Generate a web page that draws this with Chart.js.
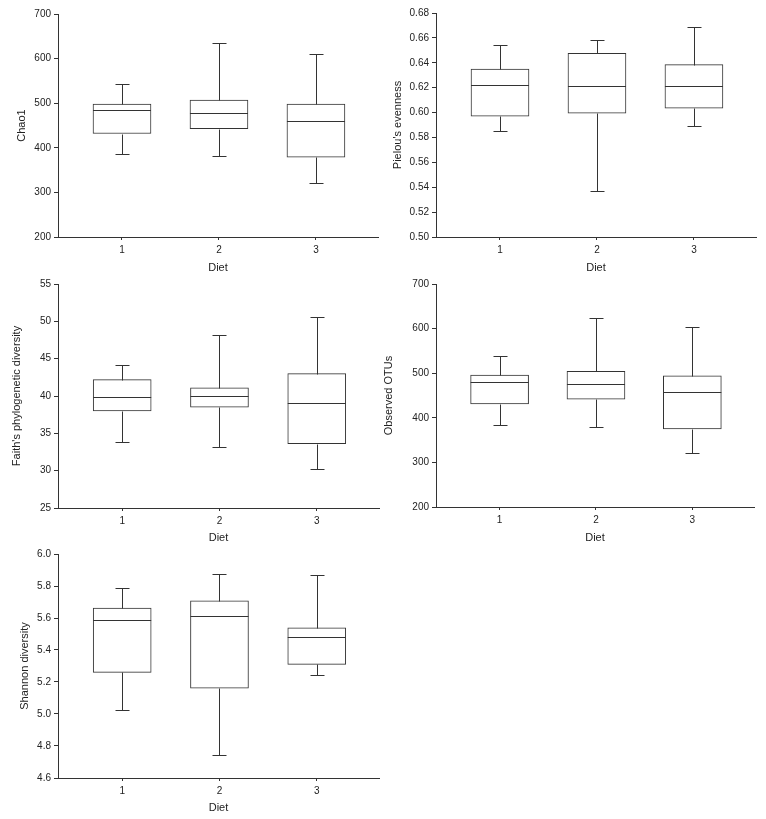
<!DOCTYPE html>
<html>
<head>
<meta charset="utf-8">
<script src="https://cdn.jsdelivr.net/npm/chart.js@4/dist/chart.umd.min.js"></script>
<style>
  html, body { margin: 0; padding: 0; background: #ffffff; }
  #wrap { position: relative; width: 766px; height: 819px; overflow: hidden; background: #fff; }
  canvas { position: absolute; }
</style>
</head>
<body>
<div id="wrap">
  <canvas id="c1" width="383" height="280" style="left:0px;top:0px"></canvas>
  <canvas id="c2" width="383" height="280" style="left:383px;top:0px"></canvas>
  <canvas id="c3" width="383" height="280" style="left:0px;top:270px"></canvas>
  <canvas id="c4" width="386" height="280" style="left:380px;top:270px"></canvas>
  <canvas id="c5" width="383" height="279" style="left:0px;top:540px"></canvas>
</div>
<script>
// ---------- data ----------
const categories = ['1', '2', '3'];
const xTitle = 'Diet';

// Chao1
const chao1Min = [385, 381, 322];
const chao1Q1  = [432, 443, 379];
const chao1Med = [484, 479, 461];
const chao1Q3  = [498, 507, 498];
const chao1Max = [543, 635, 610];
const chao1Ticks = [200, 300, 400, 500, 600, 700];

// Pielou's evenness
const pielouMin = [0.585, 0.537, 0.589];
const pielouQ1  = [0.597, 0.5995, 0.6035];
const pielouMed = [0.6225, 0.6215, 0.6215];
const pielouQ3  = [0.635, 0.6475, 0.6385];
const pielouMax = [0.6545, 0.6585, 0.669];
const pielouTicks = [0.50, 0.52, 0.54, 0.56, 0.58, 0.60, 0.62, 0.64, 0.66, 0.68];

// Faith's phylogenetic diversity
const faithMin = [33.8, 33.2, 30.2];
const faithQ1  = [38.0, 38.5, 33.6];
const faithMed = [39.8, 40.0, 39.0];
const faithQ3  = [42.2, 41.1, 43.0];
const faithMax = [44.2, 48.2, 50.6];
const faithTicks = [25, 30, 35, 40, 45, 50, 55];

// Observed OTUs
const otuMin = [384, 380, 322];
const otuQ1  = [431, 442, 375];
const otuMed = [480, 475, 458];
const otuQ3  = [496, 504, 494];
const otuMax = [538, 624, 604];
const otuTicks = [200, 300, 400, 500, 600, 700];

// Shannon diversity
const shannonMin = [5.028, 4.742, 5.243];
const shannonQ1  = [5.26, 5.161, 5.31];
const shannonMed = [5.589, 5.612, 5.479];
const shannonQ3  = [5.662, 5.708, 5.539];
const shannonMax = [5.789, 5.873, 5.869];
const shannonTicks = [4.6, 4.8, 5.0, 5.2, 5.4, 5.6, 5.8, 6.0];

// ---------- styling / layout ----------
const LINE = '#333333';
const TEXT = '#222222';
const FONT = '"Liberation Sans", Arial, sans-serif';

const panels = [
  { id: 'c1', title: 'Chao1', min: chao1Min, q1: chao1Q1, med: chao1Med, q3: chao1Q3, max: chao1Max,
    ticks: chao1Ticks, dec: 0, yW: 58, xH: 43, pad: { top: 14, right: 5, bottom: 0, left: 0 }, yTitlePad: 15.4, xTitlePad: 5.4 },
  { id: 'c2', title: "Pielou's evenness", min: pielouMin, q1: pielouQ1, med: pielouMed, q3: pielouQ3, max: pielouMax,
    ticks: pielouTicks, dec: 2, yW: 53, xH: 43, pad: { top: 13, right: 10, bottom: 0, left: 0 }, yTitlePad: 8.6, xTitlePad: 5.4 },
  { id: 'c3', title: "Faith's phylogenetic diversity", min: faithMin, q1: faithQ1, med: faithMed, q3: faithQ3, max: faithMax,
    ticks: faithTicks, dec: 0, yW: 58, xH: 42, pad: { top: 14, right: 4, bottom: 0, left: 0 }, yTitlePad: 10.4, xTitlePad: 5.4 },
  { id: 'c4', title: 'Observed OTUs', min: otuMin, q1: otuQ1, med: otuMed, q3: otuQ3, max: otuMax,
    ticks: otuTicks, dec: 0, yW: 56, xH: 43, pad: { top: 14, right: 12, bottom: 0, left: 0 }, yTitlePad: 2.1, xTitlePad: 5.4 },
  { id: 'c5', title: 'Shannon diversity', min: shannonMin, q1: shannonQ1, med: shannonMed, q3: shannonQ3, max: shannonMax,
    ticks: shannonTicks, dec: 1, yW: 58, xH: 41, pad: { top: 14, right: 4, bottom: 0, left: 0 }, yTitlePad: 18.4, xTitlePad: 4.4 }
];

const boxPlugin = {
  id: 'boxWhiskers',
  afterDatasetsDraw(chart, args, opts) {
    const ctx = chart.ctx;
    const ys = chart.scales.y;
    const meta = chart.getDatasetMeta(0);
    ctx.save();
    ctx.strokeStyle = LINE;
    ctx.lineWidth = 1;
    ctx.beginPath();
    opts.min.forEach((mn, i) => {
      const el = meta.data[i];
      const cx = Math.round(el.x) + 0.5;
      const half = el.width / 2;
      const py = v => Math.round(ys.getPixelForValue(v)) + 0.5;
      const yMin = py(mn), yQ1 = py(opts.q1[i]), yMed = py(opts.med[i]), yQ3 = py(opts.q3[i]), yMax = py(opts.max[i]);
      ctx.moveTo(cx, yQ3); ctx.lineTo(cx, yMax);
      ctx.moveTo(cx - 7, yMax); ctx.lineTo(cx + 7, yMax);
      ctx.moveTo(cx, yQ1); ctx.lineTo(cx, yMin);
      ctx.moveTo(cx - 7, yMin); ctx.lineTo(cx + 7, yMin);
      ctx.moveTo(el.x - half, yMed); ctx.lineTo(el.x + half, yMed);
    });
    ctx.stroke();
    ctx.restore();
  }
};

panels.forEach(p => {
  const tickVals = p.ticks;
  new Chart(document.getElementById(p.id), {
    type: 'bar',
    data: {
      datasets: [{
        data: categories.map((c, i) => ({ x: i + 1, y: [p.q1[i], p.q3[i]] })),
        backgroundColor: '#ffffff',
        borderColor: LINE,
        borderWidth: 1,
        borderSkipped: false,
        barThickness: 58
      }]
    },
    plugins: [boxPlugin],
    options: {
      responsive: false,
      animation: false,
      events: [],
      layout: { padding: p.pad },
      plugins: {
        legend: { display: false },
        tooltip: { enabled: false },
        boxWhiskers: { min: p.min, q1: p.q1, med: p.med, q3: p.q3, max: p.max }
      },
      scales: {
        x: {
          type: 'linear',
          min: 0.34,
          max: 3.64,
          offset: false,
          afterBuildTicks: s => { s.ticks = categories.map((c, i) => ({ value: i + 1 })); },
          afterFit: s => { s.height = p.xH; },
          ticks: {
            callback: v => categories[Math.round(v) - 1],
            font: { family: FONT, size: 10 },
            color: TEXT,
            padding: 4,
            maxRotation: 0,
            autoSkip: false
          },
          grid: { display: true, drawOnChartArea: false, drawTicks: true, tickLength: 3, color: LINE, offset: false },
          border: { display: true, color: LINE, width: 1 },
          title: { display: true, text: xTitle, font: { family: FONT, size: 11 }, color: TEXT, padding: { top: 0, bottom: p.xTitlePad } }
        },
        y: {
          type: 'linear',
          min: tickVals[0],
          max: tickVals[tickVals.length - 1],
          afterBuildTicks: s => { s.ticks = tickVals.map(v => ({ value: v })); },
          afterFit: s => { s.width = p.yW; },
          ticks: {
            callback: v => Number(v).toFixed(p.dec),
            font: { family: FONT, size: 10 },
            color: TEXT,
            padding: 3,
            autoSkip: false
          },
          grid: { display: true, drawOnChartArea: false, drawTicks: true, tickLength: 4, color: LINE },
          border: { display: true, color: LINE, width: 1 },
          title: { display: true, text: p.title, font: { family: FONT, size: 11 }, color: TEXT, padding: { top: p.yTitlePad, bottom: 0 } }
        }
      }
    }
  });
});
</script>
</body>
</html>
